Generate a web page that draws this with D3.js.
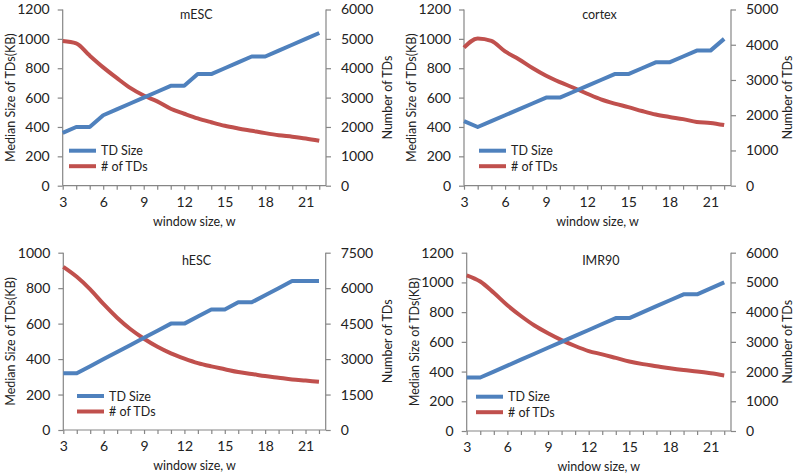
<!DOCTYPE html>
<html>
<head>
<meta charset="utf-8">
<script src="https://cdn.jsdelivr.net/npm/d3@7"></script>
<style>
  body { margin: 0; background: #fff; }
  svg text { font-family: Lato, "Open Sans", sans-serif; fill: #222; }
</style>
</head>
<body>
<div id="container"></div>
<script>
// window sizes on the x axis
var windowSizes = d3.range(3, 23);
var xTickLabels = [3, 6, 9, 12, 15, 18, 21];

// mESC
var mescSize  = [360, 400, 400, 480, 520, 560, 600, 640, 680, 680, 760, 760, 800, 840, 880, 880, 920, 960, 1000, 1040];
var mescCount = [4930, 4850, 4430, 4030, 3670, 3330, 3070, 2870, 2620, 2450, 2290, 2160, 2040, 1950, 1870, 1790, 1720, 1670, 1610, 1530];
// cortex
var cortexSize  = [440, 400, 440, 480, 520, 560, 600, 600, 640, 680, 720, 760, 760, 800, 840, 840, 880, 920, 920, 1000];
var cortexCount = [3920, 4180, 4110, 3810, 3590, 3340, 3120, 2940, 2780, 2610, 2450, 2330, 2230, 2120, 2020, 1950, 1890, 1810, 1780, 1720];
// hESC
var hescSize  = [320, 320, 360, 400, 440, 480, 520, 560, 600, 600, 640, 680, 680, 720, 720, 760, 800, 840, 840, 840];
var hescCount = [6900, 6480, 5950, 5320, 4750, 4260, 3860, 3520, 3240, 3020, 2830, 2690, 2570, 2450, 2370, 2280, 2210, 2140, 2090, 2040];
// IMR90
var imrSize  = [360, 360, 400, 440, 480, 520, 560, 600, 640, 680, 720, 760, 760, 800, 840, 880, 920, 920, 960, 1000];
var imrCount = [5240, 5030, 4650, 4230, 3870, 3550, 3290, 3060, 2860, 2690, 2580, 2460, 2340, 2250, 2180, 2110, 2050, 2000, 1940, 1870];

var blue = '#4f81bd', red = '#c0504d', axisColor = '#868686';

var panels = [
  {name: 'mESC',   size: mescSize,   count: mescCount,   leftMax: 1200, rightMax: 6000, rightStep: 1000,
   x0: 62.7, x1: 326, y0: 185.7, y1: 9.5, legX: 69, legY: 150.7, titleY: 19},
  {name: 'cortex', size: cortexSize, count: cortexCount, leftMax: 1200, rightMax: 5000, rightStep: 1000,
   x0: 464, x1: 731, y0: 185.7, y1: 9.5, legX: 479, legY: 150.7, titleY: 19},
  {name: 'hESC',   size: hescSize,   count: hescCount,   leftMax: 1000, rightMax: 7500, rightStep: 1500,
   x0: 63.3, x1: 325.7, y0: 430, y1: 252.7, legX: 77, legY: 396, titleY: 265},
  {name: 'IMR90',  size: imrSize,    count: imrCount,    leftMax: 1200, rightMax: 6000, rightStep: 1000,
   x0: 466.7, x1: 731, y0: 431, y1: 252.7, legX: 476, legY: 396.7, titleY: 265}
];

var svg = d3.select('#container')
    .append('svg')
    .attr('width', 796)
    .attr('height', 473);

panels.forEach(function(p){
    var g = svg.append('g');

    var x = d3.scaleLinear().domain([3, 22.5]).range([p.x0, p.x1]);
    var yL = d3.scaleLinear().domain([0, p.leftMax]).range([p.y0, p.y1]);
    var yR = d3.scaleLinear().domain([0, p.rightMax]).range([p.y0, p.y1]);

    // left axis
    var left = g.append('g')
        .attr('transform', 'translate(' + p.x0 + ',0)')
        .call(d3.axisLeft(yL).tickValues(d3.range(0, p.leftMax + 1, 200))
            .tickFormat(d3.format('d')).tickSize(5).tickPadding(8));
    // right axis
    var right = g.append('g')
        .attr('transform', 'translate(' + p.x1 + ',0)')
        .call(d3.axisRight(yR).tickValues(d3.range(0, p.rightMax + 1, p.rightStep))
            .tickFormat(d3.format('d')).tickSize(5).tickPadding(10));
    // x axis: a tick at every window size, labels every 3
    var bottom = g.append('g')
        .attr('transform', 'translate(0,' + p.y0 + ')')
        .call(d3.axisBottom(x).tickValues(windowSizes).tickSize(4).tickPadding(7)
            .tickFormat(function(d){ return xTickLabels.indexOf(d) >= 0 ? d : ''; }));

    [left, right, bottom].forEach(function(a){
        a.select('.domain').attr('stroke', axisColor).attr('stroke-width', 1.2);
        a.selectAll('.tick line').attr('stroke', axisColor).attr('stroke-width', 1.2);
        a.selectAll('.tick text').style('font-size', '14px').attr('fill', '#222');
    });
    // axes in the reference have no outer end cap on the domain line
    left.select('.domain').attr('d', 'M0,' + p.y0 + 'V' + p.y1);
    right.select('.domain').attr('d', 'M0,' + p.y0 + 'V' + p.y1);
    bottom.select('.domain').attr('d', 'M' + p.x0 + ',0H' + p.x1);

    var sizeLine = d3.line()
        .x(function(d, i){ return x(windowSizes[i]); })
        .y(function(d){ return yL(d); });
    var countLine = d3.line()
        .curve(d3.curveMonotoneX)
        .x(function(d, i){ return x(windowSizes[i]); })
        .y(function(d){ return yR(d); });

    g.append('path').datum(p.count)
        .attr('d', countLine)
        .attr('fill', 'none').attr('stroke', red).attr('stroke-width', 4)
        .attr('stroke-linejoin', 'round');
    g.append('path').datum(p.size)
        .attr('d', sizeLine)
        .attr('fill', 'none').attr('stroke', blue).attr('stroke-width', 4)
        .attr('stroke-linejoin', 'round');

    // title
    g.append('text')
        .attr('x', (p.x0 + p.x1) / 2 + 2)
        .attr('y', p.titleY)
        .attr('text-anchor', 'middle')
        .style('font-size', '12.5px').attr('fill', '#333')
        .text(p.name);

    // axis titles
    var midY = (p.y0 + p.y1) / 2;
    g.append('text')
        .attr('transform', 'translate(' + (p.x0 - 48) + ',' + midY + ') rotate(-90)')
        .attr('text-anchor', 'middle')
        .style('font-size', '12.5px').attr('fill', '#444')
        .text('Median Size of TDs(KB)');
    g.append('text')
        .attr('transform', 'translate(' + Math.min(p.x1 + 66, 792) + ',' + midY + ') rotate(-90)')
        .attr('text-anchor', 'middle')
        .style('font-size', '12.5px').attr('fill', '#444')
        .text('Number of TDs');
    g.append('text')
        .attr('x', (p.x0 + p.x1) / 2)
        .attr('y', p.y0 + 40)
        .attr('text-anchor', 'middle')
        .style('font-size', '12.5px').attr('fill', '#444')
        .text('window size, w');

    // legend
    var legend = [{label: 'TD Size', color: blue}, {label: '# of TDs', color: red}];
    legend.forEach(function(l, i){
        var ly = p.legY + i * 15.5;
        g.append('line')
            .attr('x1', p.legX).attr('x2', p.legX + 27)
            .attr('y1', ly).attr('y2', ly)
            .attr('stroke', l.color).attr('stroke-width', 4);
        g.append('text')
            .attr('x', p.legX + 32)
            .attr('y', ly + 4.5)
            .style('font-size', '12.5px').attr('fill', '#333')
            .text(l.label);
    });
});
</script>
</body>
</html>
